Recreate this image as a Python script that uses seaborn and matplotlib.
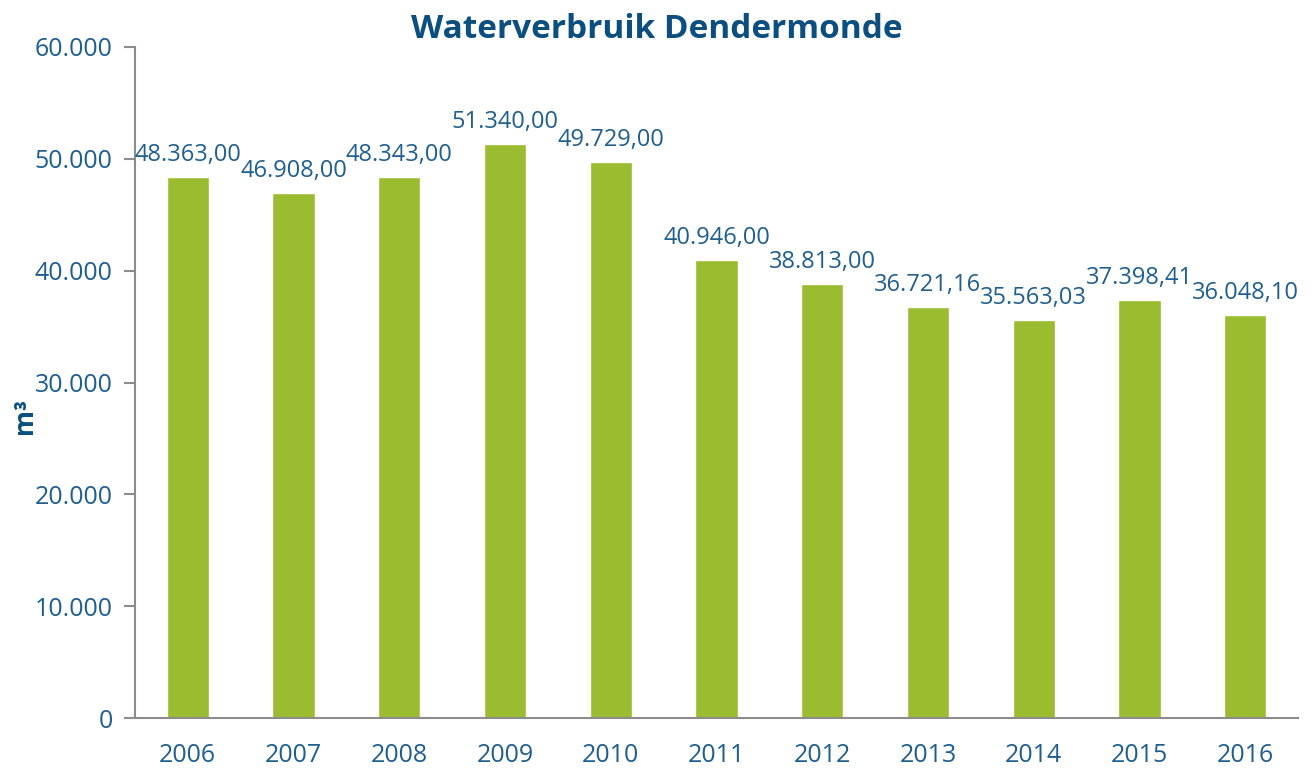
import pandas as pd
import matplotlib.pyplot as plt
import seaborn as sns
from matplotlib.ticker import FuncFormatter, FixedLocator

# data
jaren = ['2006', '2007', '2008', '2009', '2010', '2011', '2012', '2013', '2014', '2015', '2016']
verbruik = [48363.00, 46908.00, 48343.00, 51340.00, 49729.00, 40946.00,
            38813.00, 36721.16, 35563.03, 37398.41, 36048.10]

blauw = '#1f5f8f'
titel_blauw = '#0b4f80'
groen = '#9bbb30'
grijs = '#8c8c8c'


def nl_getal(v, dec=0):
    s = f"{v:,.{dec}f}"
    return s.replace(',', 'X').replace('.', ',').replace('X', '.')


def plot_waterverbruik():
    df = pd.DataFrame({'jaar': jaren, 'm3': verbruik})

    sns.set_style('white')
    plt.rcParams['font.family'] = ['Open Sans', 'DejaVu Sans']

    fig = plt.figure(figsize=(13.14, 7.69), dpi=100)
    ax = fig.add_axes([0.1027, 0.0663, 0.8851, 0.8726])

    sns.barplot(data=df, x='jaar', y='m3', color=groen, width=0.4,
                saturation=1, ax=ax)

    for i, v in enumerate(verbruik):
        ax.text(i, v + 900, nl_getal(v, 2), ha='center', va='bottom',
                fontsize=17, color=blauw)

    ax.set_ylim(0, 60000)
    ax.set_xlim(-0.5, len(jaren) - 0.5)
    ax.set_yticks(range(0, 60001, 10000))
    ax.yaxis.set_major_formatter(FuncFormatter(lambda v, p: nl_getal(v)))

    # x ticks at the category boundaries, labels in the middle
    ax.xaxis.set_minor_locator(FixedLocator([i - 0.5 for i in range(len(jaren) + 1)]))
    ax.tick_params(axis='x', which='major', length=0, pad=18, labelsize=18, labelcolor=blauw)
    ax.tick_params(axis='x', which='minor', length=8, width=1.5, color=grijs, direction='out')
    ax.tick_params(axis='y', length=8, width=1.5, color=grijs, direction='out',
                   pad=8, labelsize=18, labelcolor=blauw, left=True)

    sns.despine(ax=ax, top=True, right=True)
    for s in ['left', 'bottom']:
        ax.spines[s].set_color(grijs)
        ax.spines[s].set_linewidth(1.5)

    ax.set_xlabel('')
    ax.set_ylabel('m³', fontsize=19, fontweight='bold', color=titel_blauw)
    ax.yaxis.set_label_coords(-0.083, 0.45)
    fig.text(0.5, 0.962, 'Waterverbruik Dendermonde', ha='center', va='center',
             fontsize=24, fontweight='bold', color=titel_blauw)

    fig.savefig('out.png', dpi=100)


if __name__ == "__main__":
    plot_waterverbruik()
